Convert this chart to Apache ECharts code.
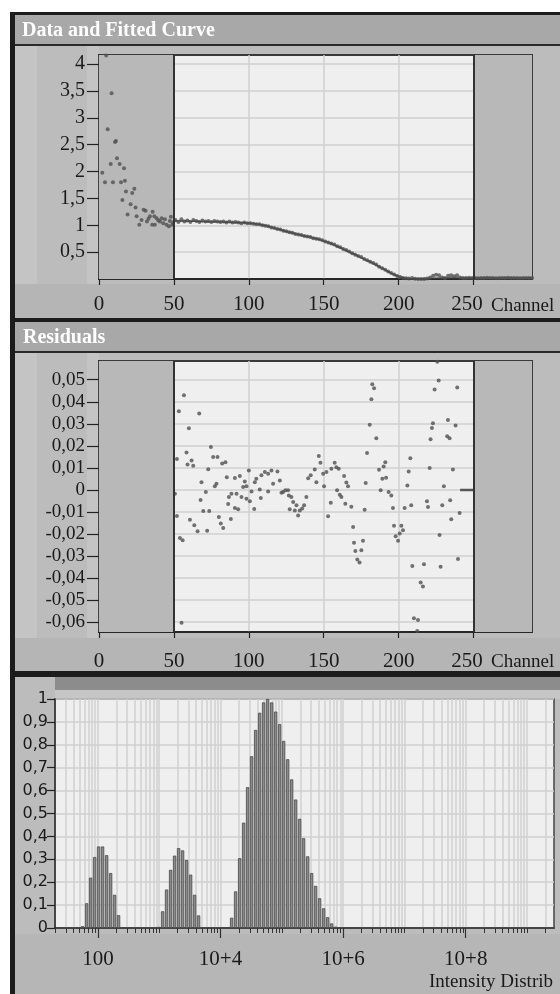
<!DOCTYPE html>
<html><head><meta charset="utf-8">
<script src="https://cdn.jsdelivr.net/npm/echarts@6/dist/echarts.min.js"></script>
<style>html,body{margin:0;padding:0;background:#fff}#c{width:560px;height:994px}</style>
</head><body><div id="c"></div>
<script>
// ---------- Panel 1: Data and Fitted Curve ----------
const channelTicks = [0, 50, 100, 150, 200, 250];
const curveTicks = [0.5, 1, 1.5, 2, 2.5, 3, 3.5, 4];
const earlyData = [
  [2.2,1.98],[4,1.80],[4.8,4.16],[5.8,2.79],[7.8,2.14],[8.4,3.46],[9.3,1.80],[10.7,2.55],[11.3,2.57],
  [12,2.25],[13.8,2.14],[14.7,1.80],[15.6,1.47],[16.7,2.06],[17.3,1.83],[18,1.63],[19.1,1.20],
  [21.1,1.39],[22.2,1.60],[23.6,1.68],[24.4,1.33],[25.1,1.17],[26.9,1.01],[28.4,1.10],[29.8,1.29],
  [31.1,1.27],[32,1.07],[33,1.12],[34,1.17],[35.5,1.01],[35.8,1.25],[36.9,1.17],[37.3,1.01],[38.5,1.13],
  [39.6,1.09],[40.7,1.07],[41.8,1.13],[42.9,1.04],[44,1.11],[45.1,1.01],[46.7,0.98],[47.3,1.08],
  [48,1.16],[48.9,1.01],[49.5,1.05]
];
const lateData = [
  [51,1.10],[53,1.06],[55,1.11],[57,1.07],[59,1.09],[61,1.06],[63,1.10],[65,1.08],[67,1.06],[69,1.09],
  [71,1.07],[73,1.08],[75,1.06],[77,1.08],[79,1.07],[81,1.06],[83,1.07],[85,1.05],[87,1.07],[89,1.05],
  [91,1.06],[93,1.05],[95,1.04],[97,1.05],[99,1.04],[101,1.04],[103,1.03],[105,1.02],[107,1.02],[109,1.00],
  [111,0.99],[113,0.98],[115,0.96],[117,0.95],[119,0.93],[121,0.92],[123,0.90],[125,0.89],[127,0.87],[129,0.86],
  [131,0.84],[133,0.83],[135,0.82],[137,0.80],[139,0.79],[141,0.78],[143,0.76],[145,0.75],[147,0.74],[149,0.72],
  [151,0.70],[153,0.68],[155,0.66],[157,0.64],[159,0.61],[161,0.59],[163,0.56],[165,0.54],[167,0.51],[169,0.48],
  [171,0.45],[173,0.43],[175,0.41],[177,0.37],[179,0.35],[181,0.32],[183,0.30],[185,0.27],[187,0.23],[189,0.20],
  [191,0.17],[193,0.14],[195,0.11],[197,0.085],[199,0.055],[201,0.035],[203,0.02],[205,0.015],[207,0.01],[209,0.02],
  [211,0.005],[213,0.0],[215,0.0],[217,0.0],[219,0.01],[221,0.03],[223,0.06],[225,0.08],[227,0.07],[229,0.03],
  [231,0.02],[233,0.06],[235,0.07],[237,0.05],[239,0.07],[241,0.03],[243,0.02],[245,0.02],[247,0.025],[249,0.02],
  [251,0.02],[253,0.015],[255,0.02],[257,0.02],[259,0.025],[261,0.02],[263,0.02],[265,0.015],[267,0.02],[269,0.02],
  [271,0.02],[273,0.025],[275,0.02],[277,0.02],[279,0.02],[281,0.015],[283,0.02],[285,0.02],[287,0.02],[289,0.02]
];
const fitChannels = [50,55,60,65,70,75,80,85,90,95,100,105,110,115,120,125,130,135,140,145,150,155,160,165,170,175,180,185,190,195,200,205,210,215,220,225,230,235,240,250,260,270,280,289];
const fitValues = [1.085,1.08,1.078,1.075,1.07,1.066,1.062,1.058,1.053,1.047,1.04,1.025,1.0,0.965,0.925,0.885,0.85,0.815,0.785,0.75,0.71,0.655,0.595,0.53,0.465,0.398,0.33,0.26,0.185,0.11,0.045,0.015,0.005,0.005,0.01,0.015,0.018,0.02,0.02,0.02,0.02,0.02,0.02,0.02];

// ---------- Panel 2: Residuals ----------
const residualTicks = [0.05,0.04,0.03,0.02,0.01,0,-0.01,-0.02,-0.03,-0.04,-0.05,-0.06];
const residualData = [
  [50.7,-0.0017],[52,0.014],[52,-0.0118],[53.3,0.0357],[54,-0.0218],[55.1,-0.0603],[55.8,-0.0229],[56.7,0.0429],
  [58.4,0.017],[59.1,0.0115],[60,0.028],[60.7,-0.0136],[61.8,0.0133],[62.9,0.011],[63.6,-0.016],[65.8,-0.0188],
  [66.9,0.0347],[67.8,-0.0046],[68.4,0.0035],[69.6,-0.0096],[71.3,-0.001],[72.2,-0.0186],[72.9,0.0094],[73.6,-0.0096],
  [74.7,0.0195],[76.2,0.0149],[77.3,0.0017],[78.4,0.0028],[79.1,0.0149],[80,-0.0123],[81.3,-0.0153],[82.2,0.012],
  [82.9,-0.0173],[84.4,0.0126],[85.3,0.0057],[86.2,-0.0064],[86.7,-0.0032],[88,-0.0132],[88.4,-0.0017],[90.7,0.0054],
  [90.7,-0.0082],[91.8,-0.0017],[92.9,-0.0088],[94,0.0063],[95.1,-0.0032],[96.2,0.0013],[97.3,0.0038],[98.4,0.0017],
  [98.4,-0.004],[100,0.0088],[100.7,-0.0052],[101.8,-0.0007],[103.6,-0.0087],[104,0.0035],[105,0.005],[107.3,0.0002],
  [108,-0.0037],[108.4,0.0066],[110.7,0.0081],[112.9,0.0073],[112.9,-0.0007],[115.1,0.0088],[116.2,0.0028],[119.1,0.0083],
  [120.7,0.0043],[121.8,-0.0013],[122.9,-0.001],[124.4,-0.0002],[126.2,-0.0002],[126.7,-0.0025],[127.3,-0.0088],[128.4,-0.0032],
  [129.6,-0.0055],[130.7,-0.0093],[131.8,-0.007],[132.9,-0.0116],[134,-0.0093],[135.6,-0.0085],[136.9,-0.007],[138.4,-0.0032],
  [139.6,0.0053],[141.3,0.0066],[144,0.0093],[145.1,0.0035],[146.7,0.0154],[147.8,0.0123],[149.6,0.0073],[150.2,0.0017],
  [151.8,0.0081],[152.9,-0.012],[154.7,-0.0058],[155.1,0.0096],[157.3,0.0123],[158.4,0.0103],[158.9,-0.0002],[160,0.0096],
  [160.7,-0.0022],[161.8,-0.0032],[163.6,0.0063],[164.4,-0.0063],[165.1,0.0033],[166.2,0.0017],[168.4,-0.0077],[169.6,-0.0168],
  [170.2,-0.024],[171.1,-0.0277],[172.4,-0.0316],[173.9,-0.033],[175.1,-0.0274],[176.2,-0.0231],[177.3,-0.009],[178,0.0031],
  [178.9,0.0167],[180.7,0.0296],[181.8,0.0411],[182.4,0.048],[183.6,0.0461],[185.1,0.0234],[186.9,0.0091],[188,-0.0002],
  [189.1,0.005],[190,0.0106],[191.1,0.0126],[191.6,0.0055],[193.3,-0.001],[195.1,-0.0025],[196.2,-0.0082],[196.9,-0.0163],
  [198,-0.021],[199.6,-0.0231],[200.7,-0.0198],[201.8,-0.0163],[202.9,-0.0183],[204,-0.0082],[205.8,0.002],[206.7,0.0084],
  [207.8,0.0144],[208.4,-0.007],[209.1,-0.0346],[210.2,-0.0583],[212.4,-0.064],[212.9,-0.059],[214.7,-0.042],[216.2,-0.0439],
  [216.9,-0.0337],[218.9,-0.0052],[219.6,-0.0078],[220.7,0.0099],[221.3,0.023],[222.2,0.0281],[222.9,0.0302],[224,0.0456],
  [225.8,0.0582],[226.7,0.0497],[227.3,-0.0205],[228,-0.0349],[229.1,-0.007],[230.2,0.0016],[232.4,0.0243],[232.9,0.0317],
  [234,0.0234],[234.4,-0.0047],[235.1,-0.0133],[236.2,0.0093],[238,0.0292],[239.1,0.0465],[239.6,-0.0314],[240.7,-0.0105]
];
const residualFlat = [[241,0],[243,0],[245,0],[247,0],[249,0],[250,0]];

// ---------- Panel 3: Intensity Distribution (x = log10 intensity) ----------
const distLog = [
  1.750,1.816,1.881,1.946,2.011,2.076,2.142,2.207,2.272,2.337,
  2.990,3.055,3.120,3.186,3.251,3.316,3.381,3.447,3.512,3.577,3.642,
  4.181,4.246,4.312,4.377,4.442,4.507,4.573,4.638,4.703,4.768,4.834,4.899,4.964,5.029,5.095,5.160,
  5.225,5.290,5.355,5.421,5.486,5.551,5.616,5.682,5.747,5.812,5.877
];
const distValues = [
  0.008,0.108,0.22,0.31,0.356,0.356,0.318,0.24,0.145,0.056,
  0.005,0.073,0.168,0.254,0.316,0.349,0.339,0.297,0.233,0.145,0.055,
  0.045,0.16,0.305,0.46,0.615,0.75,0.865,0.94,0.985,1.0,0.985,0.945,0.89,0.817,0.737,0.649,
  0.561,0.477,0.392,0.313,0.24,0.184,0.13,0.086,0.047,0.02,0.006
];
const distMajorTicks = [2, 4, 6, 8];
const distMajorLabels = ['100', '10+4', '10+6', '10+8'];

// log-decade gridline positions (axis ticks, not data)
const distMinorTicks = [];
for (let n = 1; n <= 9; n++) for (let k = 1; k <= 9; k++) {
  const v = Math.log10(k * Math.pow(10, n));
  if (v >= 1.3 && v <= 9.44) distMinorTicks.push(v);
}

const comma = (v, d) => { const s = (+v.toFixed(d)).toString(); return s.replace('.', ','); };
const serif = 'Liberation Serif';
const ink = '#1a1a1a';
const gridLine = { show: true, lineStyle: { color: '#d0d0d0', width: 1.5 } };

const chart = echarts.init(document.getElementById('c'), null, { renderer: 'canvas' });

const channelAxis = (gi, margin) => ({
  type: 'value', gridIndex: gi, min: 0, max: 289, position: 'bottom',
  axisLine: { show: true, onZero: false, lineStyle: { color: '#222', width: 1.5 } },
  axisTick: { show: true, customValues: channelTicks, length: 6, lineStyle: { color: '#222', width: 1.2 } },
  axisLabel: { customValues: channelTicks, margin: margin, fontFamily: serif, fontSize: 21, color: ink,
    formatter: v => v === 250 ? '{s|250}' : String(v),
    rich: { s: { fontFamily: serif, fontSize: 21, color: ink, padding: [0, 13, 0, 0] } } },
  splitLine: gridLine
});

chart.setOption({
  animation: false,
  backgroundColor: '#ffffff',
  graphic: [
    { type: 'rect', z: -10, shape: { x: 10, y: 12, width: 550, height: 982 }, style: { fill: '#bcbcbc' } },
    { type: 'rect', z: -9, shape: { x: 15, y: 46, width: 22, height: 238 }, style: { fill: '#c4c4c4' } },
    { type: 'rect', z: -9, shape: { x: 87, y: 46, width: 12, height: 238 }, style: { fill: '#c4c4c4' } },
    { type: 'rect', z: -9, shape: { x: 15, y: 284, width: 545, height: 34 }, style: { fill: '#b5b5b5' } },
    { type: 'rect', z: -9, shape: { x: 15, y: 353, width: 22, height: 285 }, style: { fill: '#c4c4c4' } },
    { type: 'rect', z: -9, shape: { x: 87, y: 353, width: 12, height: 285 }, style: { fill: '#c4c4c4' } },
    { type: 'rect', z: -9, shape: { x: 15, y: 638, width: 545, height: 33 }, style: { fill: '#b5b5b5' } },
    { type: 'rect', z: -9, shape: { x: 15, y: 15, width: 545, height: 29 }, style: { fill: '#a8a8a8' } },
    { type: 'rect', z: -9, shape: { x: 15, y: 44, width: 545, height: 2 }, style: { fill: '#2a2a2a' } },
    { type: 'rect', z: -9, shape: { x: 10, y: 318, width: 550, height: 4 }, style: { fill: '#1c1c1c' } },
    { type: 'rect', z: -9, shape: { x: 15, y: 322, width: 545, height: 29 }, style: { fill: '#a8a8a8' } },
    { type: 'rect', z: -9, shape: { x: 15, y: 351, width: 545, height: 2 }, style: { fill: '#2a2a2a' } },
    { type: 'rect', z: -9, shape: { x: 10, y: 671, width: 550, height: 6 }, style: { fill: '#1c1c1c' } },
    { type: 'rect', z: -9, shape: { x: 55, y: 677, width: 505, height: 13 }, style: { fill: '#8c8c8c' } },
    { type: 'rect', z: -9, shape: { x: 55, y: 690, width: 505, height: 9 }, style: { fill: '#c6c6c6' } },
    { type: 'rect', z: -9, shape: { x: 15, y: 934, width: 545, height: 60 }, style: { fill: '#b6b6b6' } },
    { type: 'rect', z: -9, shape: { x: 10, y: 12, width: 550, height: 3 }, style: { fill: '#1c1c1c' } },
    { type: 'rect', z: -9, shape: { x: 10, y: 12, width: 5, height: 982 }, style: { fill: '#1c1c1c' } },
    { type: 'text', z: 10, x: 22, y: 31, style: { text: 'Data and Fitted Curve', fill: '#ffffff', fontFamily: serif, fontWeight: 'bold', fontSize: 20, verticalAlign: 'middle' } },
    { type: 'text', z: 10, x: 23, y: 338, style: { text: 'Residuals', fill: '#ffffff', fontFamily: serif, fontWeight: 'bold', fontSize: 20, verticalAlign: 'middle' } },
    { type: 'text', z: 10, x: 491, y: 306, style: { text: 'Channel', fill: ink, fontFamily: serif, fontSize: 19, verticalAlign: 'middle' } },
    { type: 'text', z: 10, x: 491, y: 662, style: { text: 'Channel', fill: ink, fontFamily: serif, fontSize: 19, verticalAlign: 'middle' } },
    { type: 'text', z: 10, x: 553, y: 982, style: { text: 'Intensity Distrib', fill: ink, fontFamily: serif, fontSize: 19, align: 'right', verticalAlign: 'middle' } }
  ],
  grid: [
    { left: 99, top: 55, width: 433, height: 224, show: true, backgroundColor: '#efefef', borderColor: '#3a3a3a', borderWidth: 2 },
    { left: 99, top: 361, width: 433, height: 271, show: true, backgroundColor: '#efefef', borderColor: '#3a3a3a', borderWidth: 2 },
    { left: 55, top: 699, width: 499, height: 229, show: true, backgroundColor: '#efefef', borderColor: '#444', borderWidth: 1.5 }
  ],
  xAxis: [
    channelAxis(0, 15),
    channelAxis(1, 19),
    { type: 'value', gridIndex: 2, min: 1.3, max: 9.44, position: 'bottom',
      axisLine: { show: true, onZero: false, lineStyle: { color: '#222', width: 1.5 } },
      axisTick: { show: true, customValues: distMinorTicks, length: 5, lineStyle: { color: '#333', width: 1 } },
      axisLabel: { show: false },
      splitLine: { show: true, lineStyle: { color: '#d0d0d0', width: 1.5 } } },
    { type: 'value', gridIndex: 2, min: 1.3, max: 9.44, position: 'bottom',
      axisLine: { show: false, onZero: false },
      axisTick: { show: true, customValues: distMajorTicks, length: 10, lineStyle: { color: '#333', width: 1.2 } },
      axisLabel: { customValues: distMajorTicks, margin: 21, fontFamily: serif, fontSize: 21, color: ink,
        formatter: v => distMajorLabels[distMajorTicks.indexOf(Math.round(v))] },
      splitLine: { show: false } }
  ],
  yAxis: [
    { type: 'value', gridIndex: 0, min: 0, max: 4.17,
      axisLine: { show: true, onZero: false, lineStyle: { color: '#222', width: 1.5 } },
      axisTick: { show: true, customValues: curveTicks, length: 12, lineStyle: { color: '#222', width: 1.2 } },
      axisLabel: { customValues: curveTicks, margin: 14, fontFamily: serif, fontSize: 20, color: ink, formatter: v => comma(v, 1) },
      splitLine: gridLine },
    { type: 'value', gridIndex: 1, min: -0.0645, max: 0.0585,
      axisLine: { show: true, onZero: false, lineStyle: { color: '#222', width: 1.5 } },
      axisTick: { show: true, customValues: residualTicks, length: 12, lineStyle: { color: '#222', width: 1.2 } },
      axisLabel: { customValues: residualTicks, margin: 14, fontFamily: serif, fontSize: 19, color: ink, formatter: v => comma(v, 2) },
      splitLine: gridLine },
    { type: 'value', gridIndex: 2, min: 0, max: 1, interval: 0.1,
      axisLine: { show: true, onZero: false, lineStyle: { color: '#222', width: 1.5 } },
      axisTick: { show: true, length: 8, lineStyle: { color: '#222', width: 1.2 } },
      axisLabel: { margin: 7, fontFamily: 'DejaVu Sans', fontSize: 16, color: ink, formatter: v => comma(v, 1) },
      splitLine: gridLine }
  ],
  series: [
    { type: 'line', xAxisIndex: 0, yAxisIndex: 0, z: 1, smooth: true, showSymbol: false, silent: true,
      data: fitChannels.map((c, i) => [c, fitValues[i]]),
      lineStyle: { color: '#3a3a3a', width: 1.5 },
      markArea: { silent: true, itemStyle: { color: '#b8b8b8' }, data: [[{ xAxis: 0 }, { xAxis: 50 }], [{ xAxis: 250 }, { xAxis: 289 }]] } },
    { type: 'scatter', xAxisIndex: 0, yAxisIndex: 0, z: 3, silent: true, symbolSize: 4,
      data: earlyData.concat(lateData), itemStyle: { color: '#505050' },
      markLine: { silent: true, symbol: 'none', label: { show: false }, lineStyle: { color: '#333', width: 2, type: 'solid' }, data: [{ xAxis: 50 }, { xAxis: 250 }] } },
    { type: 'line', xAxisIndex: 1, yAxisIndex: 1, z: 4, showSymbol: false, silent: true,
      data: residualFlat, lineStyle: { color: '#555', width: 2.5 },
      markArea: { silent: true, itemStyle: { color: '#b8b8b8' }, data: [[{ xAxis: 0 }, { xAxis: 50 }], [{ xAxis: 250 }, { xAxis: 289 }]] } },
    { type: 'scatter', xAxisIndex: 1, yAxisIndex: 1, z: 3, silent: true, symbolSize: 4,
      data: residualData, itemStyle: { color: '#505050' },
      markLine: { silent: true, symbol: 'none', label: { show: false }, lineStyle: { color: '#333', width: 2, type: 'solid' }, data: [{ xAxis: 50 }, { xAxis: 250 }] } },
    { type: 'bar', xAxisIndex: 2, yAxisIndex: 2, z: 3, silent: true, barWidth: 3.3,
      data: distLog.map((x, i) => [x, distValues[i]]),
      itemStyle: { color: '#8a8a8a', borderColor: '#4a4a4a', borderWidth: 0.8 } }
  ]
});
</script>
</body></html>
